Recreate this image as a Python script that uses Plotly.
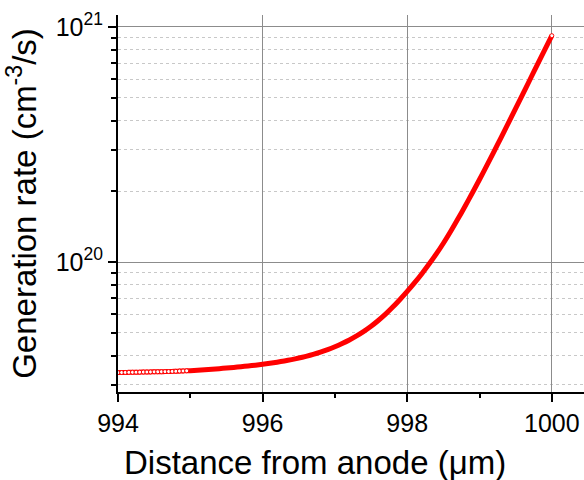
import plotly.graph_objects as go

# Distance from anode (um) and generation rate (cm^-3/s)
x_left = [994.00, 994.05, 994.10, 994.15, 994.20, 994.25, 994.30, 994.35, 994.40, 994.45,
          994.50, 994.55, 994.60, 994.65, 994.70, 994.75, 994.80, 994.85, 994.90, 994.95]
g_left = [3.385e19, 3.388e19, 3.390e19, 3.393e19, 3.395e19, 3.398e19, 3.400e19, 3.403e19,
          3.405e19, 3.408e19, 3.410e19, 3.413e19, 3.415e19, 3.418e19, 3.420e19, 3.425e19,
          3.430e19, 3.435e19, 3.440e19, 3.445e19]

x_right = [995.0, 995.1, 995.2, 995.3, 995.4, 995.5, 995.6, 995.7, 995.8, 995.9,
           996.0, 996.1, 996.2, 996.3, 996.4, 996.5, 996.6, 996.7, 996.8, 996.9,
           997.0, 997.1, 997.2, 997.3, 997.4, 997.5, 997.6, 997.7, 997.8, 997.9,
           998.0, 998.1, 998.2, 998.3, 998.4, 998.5, 998.6, 998.7, 998.8, 998.9,
           999.0, 999.1, 999.2, 999.3, 999.4, 999.5, 999.6, 999.7, 999.8, 999.9, 1000.0]
g_right = [3.450e19, 3.465e19, 3.482e19, 3.499e19, 3.518e19, 3.539e19, 3.561e19, 3.585e19, 3.612e19, 3.641e19,
           3.673e19, 3.709e19, 3.749e19, 3.794e19, 3.845e19, 3.903e19, 3.969e19, 4.045e19, 4.135e19, 4.240e19,
           4.360e19, 4.500e19, 4.660e19, 4.850e19, 5.070e19, 5.330e19, 5.640e19, 6.000e19, 6.430e19, 6.930e19,
           7.500e19, 8.150e19, 8.900e19, 9.780e19, 1.0800e20, 1.2020e20, 1.3487e20, 1.5227e20, 1.7268e20, 1.9652e20,
           2.2439e20, 2.5692e20, 2.9487e20, 3.3950e20, 3.9120e20, 4.5082e20, 5.1962e20, 5.9938e20, 6.9104e20,
           7.9650e20, 9.1833e20]

x_all = x_left + x_right
g_all = g_left + g_right

x_ticks = [994, 996, 998, 1000]
y_ticks = [1e20, 1e21]
y_ticktext = ["10<sup>20</sup>", "10<sup>21</sup>"]
y_minor = [float(m) * 10.0 ** e for e in (19, 20) for m in range(2, 10)]

FONT = "Liberation Sans, Arial, sans-serif"
RED = "#ff0000"

fig = go.Figure()
fig.add_trace(go.Scatter(x=x_all, y=g_all, mode="lines",
                         line=dict(color=RED, width=5, shape="spline", smoothing=0.6, simplify=False),
                         showlegend=False, hoverinfo="skip"))
fig.add_trace(go.Scatter(x=x_left + [x_right[-1]], y=g_left + [g_right[-1]], mode="markers",
                         marker=dict(symbol="circle", size=4, color="white",
                                     line=dict(color=RED, width=1)),
                         showlegend=False))

fig.update_layout(
    width=584, height=480,
    margin=dict(l=118, r=0, t=15, b=88),
    paper_bgcolor="white", plot_bgcolor="white",
    font=dict(family=FONT, color="black"),
    annotations=[dict(text="Distance from anode (\u03bcm)", xref="paper", yref="paper",
                      x=0.4227, y=-0.186, xanchor="center", yanchor="middle",
                      showarrow=False, font=dict(size=33))],
)
fig.update_xaxes(
    range=[994, 1000.445],
    tickvals=x_ticks, ticktext=[str(v) for v in x_ticks],
    tickfont=dict(size=25),
    ticks="outside", ticklen=8, tickwidth=1.5, tickcolor="black",
    showline=True, linecolor="black", linewidth=2, mirror=False,
    showgrid=True, gridcolor="#8c8c8c", gridwidth=1,
    zeroline=False,
    minor=dict(tickvals=[995, 997, 999], ticks="outside", ticklen=4, tickwidth=1.5,
               tickcolor="black", showgrid=False),
)
fig.update_yaxes(
    type="log",
    range=[19.447, 21.051],
    tickvals=y_ticks, ticktext=y_ticktext,
    tickfont=dict(size=25),
    ticks="outside", ticklen=8, tickwidth=1.5, tickcolor="black",
    showline=True, linecolor="black", linewidth=2, mirror=False,
    showgrid=True, gridcolor="#8c8c8c", gridwidth=1,
    zeroline=False,
    minor=dict(tickvals=y_minor, ticks="outside", ticklen=5, tickwidth=1.5, tickcolor="black",
               showgrid=True, gridcolor="#c8c8c8", griddash="dot", gridwidth=1),
    title=dict(text="Generation rate (cm<sup>-3</sup>/s)", font=dict(size=33), standoff=9),
)

fig.write_html("out.html")
